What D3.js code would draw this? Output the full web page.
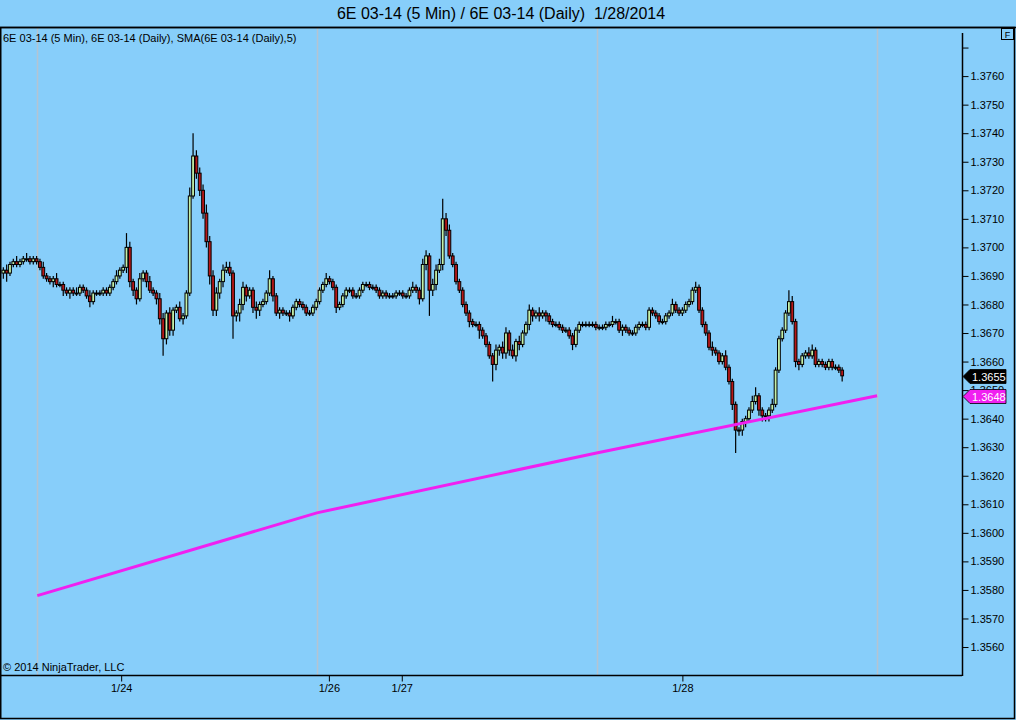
<!DOCTYPE html>
<html>
<head>
<meta charset="utf-8">
<script src="https://cdn.jsdelivr.net/npm/d3@7"></script>
<style>
  html, body { margin: 0; padding: 0; background: #87cefa; }
  svg { display: block; font-family: "Liberation Sans", Arial, sans-serif; }
  .title { white-space: pre; }
</style>
</head>
<body>
<div class="chart"></div>
<script>
// 6E 03-14, 5 min bars grouped into slots; prices in pips above 1.3600
var closes = [
  92, 91, 94, 95, 94, 95, 96, 96, 95, 96,
  95, 93, 90, 89, 88, 89, 87, 87, 85, 84,
  85, 84, 84, 86, 85, 83, 81, 84, 84, 84,
  85, 84, 86, 88, 90, 92, 93, 100, 88, 85,
  82, 89, 91, 88, 85, 84, 82, 75, 68, 77,
  71, 78, 79, 75, 76, 84, 118, 132, 126, 120,
  112, 102, 90, 78, 84, 88, 92, 93, 91, 76,
  77, 80, 86, 83, 85, 79, 78, 80, 81, 84,
  89, 83, 77, 78, 77, 77, 76, 79, 81, 80,
  79, 77, 77, 79, 81, 85, 87, 89, 88, 86,
  79, 80, 83, 85, 85, 83, 83, 85, 87, 87,
  86, 86, 85, 83, 84, 83, 83, 83, 84, 84,
  83, 83, 85, 86, 85, 82, 94, 97, 85, 87,
  92, 94, 110, 106, 97, 94, 88, 85, 80, 77,
  74, 73, 73, 71, 69, 66, 62, 59, 64, 65,
  63, 70, 64, 62, 67, 66, 70, 73, 78, 76,
  77, 76, 77, 76, 74, 73, 73, 72, 71, 71,
  69, 66, 71, 73, 73, 73, 73, 73, 72, 72,
  72, 73, 73, 74, 74, 71, 72, 71, 70, 70,
  72, 73, 73, 72, 78, 77, 76, 74, 74, 76,
  77, 80, 78, 77, 78, 80, 81, 85, 86, 78,
  73, 70, 65, 64, 63, 60, 62, 58, 53, 45,
  36, 36, 39, 40, 43, 46, 48, 43, 41, 41,
  43, 45, 57, 68, 71, 77, 81, 74, 60, 59,
  62, 63, 62, 64, 59, 60, 59, 58, 60, 58,
  58, 57, 55
];
var firstOpen = 91;
var upWick = [
  1, 2, 1, 1, 2, 1, 1, 2, 1, 1,
  1, 1, 2, 1, 1, 1, 2, 1, 1, 1,
  1, 1, 2, 1, 1, 1, 2, 1, 1, 1,
  1, 1, 1, 1, 2, 1, 1, 5, 2, 1,
  1, 2, 1, 1, 2, 1, 1, 2, 2, 1,
  2, 1, 1, 2, 1, 1, 3, 8, 2, 2,
  2, 3, 2, 2, 2, 1, 2, 2, 2, 1,
  1, 2, 2, 1, 1, 1, 2, 1, 1, 1,
  3, 1, 1, 1, 1, 1, 1, 1, 1, 1,
  1, 1, 1, 1, 1, 1, 1, 2, 1, 1,
  1, 1, 1, 1, 1, 1, 1, 1, 1, 1,
  1, 1, 1, 1, 1, 1, 1, 1, 1, 1,
  1, 1, 1, 2, 1, 1, 2, 2, 1, 2,
  2, 2, 7, 2, 2, 1, 1, 1, 1, 1,
  1, 1, 1, 1, 1, 1, 1, 1, 2, 1,
  2, 2, 1, 2, 1, 2, 1, 1, 2, 1,
  1, 2, 1, 1, 1, 1, 1, 1, 1, 1,
  1, 1, 1, 1, 1, 1, 1, 1, 1, 1,
  1, 1, 1, 2, 1, 1, 1, 1, 1, 1,
  1, 1, 1, 1, 1, 1, 1, 1, 1, 1,
  1, 2, 1, 1, 1, 1, 1, 1, 2, 1,
  1, 1, 1, 2, 1, 1, 1, 2, 1, 1,
  1, 1, 1, 1, 1, 2, 3, 1, 1, 1,
  1, 2, 1, 1, 1, 1, 4, 2, 1, 1,
  1, 1, 2, 2, 1, 1, 1, 1, 1, 1,
  1, 1, 1
];
var downWick = [
  2, 3, 1, 1, 1, 1, 1, 1, 1, 1,
  1, 1, 1, 1, 1, 2, 1, 1, 2, 1,
  2, 1, 1, 1, 1, 1, 2, 1, 1, 1,
  1, 1, 1, 1, 1, 1, 1, 2, 2, 2,
  2, 1, 1, 2, 1, 1, 2, 2, 6, 2,
  2, 2, 1, 1, 2, 1, 1, 1, 2, 2,
  2, 2, 3, 2, 2, 2, 2, 1, 1, 8,
  2, 3, 2, 2, 1, 2, 3, 2, 1, 1,
  1, 2, 1, 2, 1, 1, 2, 1, 1, 1,
  1, 1, 1, 1, 1, 1, 1, 1, 1, 1,
  2, 1, 1, 1, 1, 1, 1, 1, 1, 1,
  1, 1, 1, 1, 1, 1, 1, 1, 1, 1,
  1, 1, 1, 1, 1, 2, 1, 2, 9, 2,
  2, 1, 2, 2, 1, 1, 1, 1, 1, 1,
  2, 1, 1, 3, 1, 1, 1, 6, 2, 2,
  2, 2, 2, 1, 2, 2, 1, 1, 2, 2,
  1, 2, 1, 2, 1, 1, 1, 1, 1, 1,
  1, 2, 1, 1, 1, 1, 1, 1, 1, 1,
  1, 1, 1, 1, 1, 1, 2, 1, 1, 1,
  1, 1, 1, 1, 1, 1, 1, 1, 1, 1,
  1, 1, 1, 1, 1, 1, 1, 1, 1, 1,
  1, 1, 1, 2, 1, 1, 1, 1, 1, 2,
  8, 2, 2, 2, 1, 1, 1, 2, 2, 2,
  2, 1, 1, 1, 1, 1, 1, 1, 2, 2,
  1, 1, 1, 1, 1, 1, 1, 1, 1, 1,
  1, 1, 2
];

// daily series: slot positions of the daily bars and their SMA(5)
var dailySlots = [10.2, 94.2, 178.2, 262.5];
var smaValues = [1.3578, 1.3607, 1.3628, 1.3648];

var xTickSlots = [35.4, 97.8, 119.7, 204.0];
var xTickLabels = ['1/24', '1/26', '1/27', '1/28'];
var yTicks = [1.3560, 1.3570, 1.3580, 1.3590, 1.3600, 1.3610, 1.3620, 1.3630, 1.3640,
              1.3650, 1.3660, 1.3670, 1.3680, 1.3690, 1.3700, 1.3710, 1.3720, 1.3730,
              1.3740, 1.3750, 1.3760, 1.3770];
var yTickLabelMax = 1.3765;

var titleText = '6E 03-14 (5 Min) / 6E 03-14 (Daily)  1/28/2014';
var legendText = '6E 03-14 (5 Min), 6E 03-14 (Daily), SMA(6E 03-14 (Daily),5)';
var copyText = '\u00a9 2014 NinjaTrader, LLC';

var W = 1016, H = 720;
var plot = { left: 0, top: 27, right: 962, bottom: 675 };

function pip(v) { return 1.36 + v / 10000; }

var bars = closes.map(function(c, i) {
  var o = i === 0 ? firstOpen : closes[i - 1];
  return {
    i: i,
    open: pip(o),
    close: pip(c),
    high: pip(Math.max(o, c) + upWick[i]),
    low: pip(Math.min(o, c) - downWick[i])
  };
});

var x = d3.scaleLinear().domain([-1, 288]).range([plot.left, plot.right]);
var y = d3.scaleLinear().domain([1.35502, 1.37772]).range([plot.bottom, plot.top]);

var svg = d3.select('.chart').append('svg')
    .attr('width', W)
    .attr('height', H);

svg.append('rect')
    .attr('width', W).attr('height', H)
    .attr('fill', '#87cefa');

// title
svg.append('text')
    .attr('class', 'title')
    .attr('x', 501).attr('y', 19)
    .attr('text-anchor', 'middle')
    .attr('font-size', 16)
    .attr('fill', '#000')
    .text(titleText);

svg.append('defs').append('clipPath').attr('id', 'clip')
  .append('rect')
    .attr('x', plot.left).attr('y', plot.top)
    .attr('width', plot.right - plot.left).attr('height', plot.bottom - plot.top);

var g = svg.append('g').attr('clip-path', 'url(#clip)');

// vertical grid at the daily bars
g.selectAll('line.grid')
    .data(dailySlots)
  .enter().append('line')
    .attr('class', 'grid')
    .attr('x1', function(d) { return Math.round(x(d)) + 0.5; })
    .attr('x2', function(d) { return Math.round(x(d)) + 0.5; })
    .attr('y1', plot.top)
    .attr('y2', plot.bottom)
    .attr('stroke', '#b4c4d2')
    .attr('stroke-width', 1.5);

// candles
var bw = 2.8;
var candle = g.selectAll('g.candle')
    .data(bars)
  .enter().append('g')
    .attr('class', 'candle');

candle.append('line')
    .attr('x1', function(d) { return x(d.i); })
    .attr('x2', function(d) { return x(d.i); })
    .attr('y1', function(d) { return y(d.high); })
    .attr('y2', function(d) { return y(d.low); })
    .attr('stroke', '#000')
    .attr('stroke-width', 1.2);

candle.append('rect')
    .attr('x', function(d) { return x(d.i) - bw / 2; })
    .attr('width', bw)
    .attr('y', function(d) { return y(Math.max(d.open, d.close)); })
    .attr('height', function(d) { return Math.max(1, Math.abs(y(d.open) - y(d.close))); })
    .attr('fill', function(d) { return d.close >= d.open ? '#c4f0a8' : '#b81818'; })
    .attr('stroke', '#000')
    .attr('stroke-width', 1);

// SMA line
var smaLine = d3.line()
    .x(function(d, i) { return x(dailySlots[i]); })
    .y(function(d) { return y(d); });

g.append('path')
    .datum(smaValues)
    .attr('d', smaLine)
    .attr('fill', 'none')
    .attr('stroke', '#f020f0')
    .attr('stroke-width', 3);

// frame
svg.append('line')
    .attr('x1', 0).attr('x2', W).attr('y1', plot.top + 0.5).attr('y2', plot.top + 0.5)
    .attr('stroke', '#000').attr('stroke-width', 1.5);
svg.append('line')
    .attr('x1', plot.left).attr('x2', plot.right).attr('y1', plot.bottom + 0.5).attr('y2', plot.bottom + 0.5)
    .attr('stroke', '#000').attr('stroke-width', 1.5);
svg.append('line')
    .attr('x1', plot.right + 0.5).attr('x2', plot.right + 0.5).attr('y1', 33).attr('y2', plot.bottom + 1)
    .attr('stroke', '#000').attr('stroke-width', 1.5);
svg.append('rect')
    .attr('x', 0.75).attr('y', plot.top + 0.5)
    .attr('width', W - 2.25).attr('height', H - plot.top - 2)
    .attr('fill', 'none')
    .attr('stroke', '#000').attr('stroke-width', 1.5);

// price axis
var yAxis = d3.axisRight(y)
    .tickValues(yTicks)
    .tickSize(6)
    .tickPadding(2)
    .tickFormat(function(d) { return d > yTickLabelMax ? '' : d3.format('.4f')(d); });

var ya = svg.append('g')
    .attr('class', 'axis axis--y')
    .attr('transform', 'translate(' + (plot.right + 0.5) + ',0)')
    .call(yAxis);
ya.select('.domain').remove();
ya.selectAll('line').attr('stroke', '#000');
ya.selectAll('text').attr('font-size', 11).attr('fill', '#000').attr('font-family', '"Liberation Sans", Arial, sans-serif');

// time axis
var xAxis = d3.axisBottom(x)
    .tickValues(xTickSlots)
    .tickSize(6)
    .tickPadding(3)
    .tickFormat(function(d, i) { return xTickLabels[i]; });

var xa = svg.append('g')
    .attr('class', 'axis axis--x')
    .attr('transform', 'translate(0,' + (plot.bottom + 0.5) + ')')
    .call(xAxis);
xa.select('.domain').remove();
xa.selectAll('line').attr('stroke', '#000');
xa.selectAll('text').attr('font-size', 11).attr('fill', '#000').attr('font-family', '"Liberation Sans", Arial, sans-serif');

// price markers
function marker(value, fill, textFill) {
  var cy = Math.round(y(value)) + 0.5;
  var x0 = plot.right + 1;
  svg.append('path')
      .attr('d', 'M' + x0 + ',' + cy + 'L' + (x0 + 7) + ',' + (cy - 7) + 'L' + (x0 + 43) + ',' + (cy - 7) +
                 'L' + (x0 + 43) + ',' + (cy + 7) + 'L' + (x0 + 7) + ',' + (cy + 7) + 'Z')
      .attr('fill', fill)
      .attr('stroke', '#000')
      .attr('stroke-width', 0.8);
  svg.append('text')
      .attr('x', x0 + 9).attr('y', cy + 4)
      .attr('font-size', 11)
      .attr('fill', textFill)
      .text(d3.format('.4f')(value));
}
marker(bars[bars.length - 1].close, '#000', '#fff');
marker(smaValues[smaValues.length - 1], '#f020f0', '#fff');

// legend and copyright
svg.append('text')
    .attr('x', 3).attr('y', 42)
    .attr('font-size', 11)
    .attr('fill', '#000')
    .text(legendText);
svg.append('text')
    .attr('x', 3).attr('y', 671)
    .attr('font-size', 11)
    .attr('fill', '#000')
    .text(copyText);

// F button
svg.append('rect')
    .attr('x', 1001.5).attr('y', 28.5).attr('width', 12).attr('height', 11)
    .attr('fill', '#87cefa').attr('stroke', '#000').attr('stroke-width', 1);
svg.append('text')
    .attr('x', 1007.5).attr('y', 37.5)
    .attr('text-anchor', 'middle')
    .attr('font-size', 9)
    .attr('fill', '#000')
    .text('F');
</script>
</body>
</html>
